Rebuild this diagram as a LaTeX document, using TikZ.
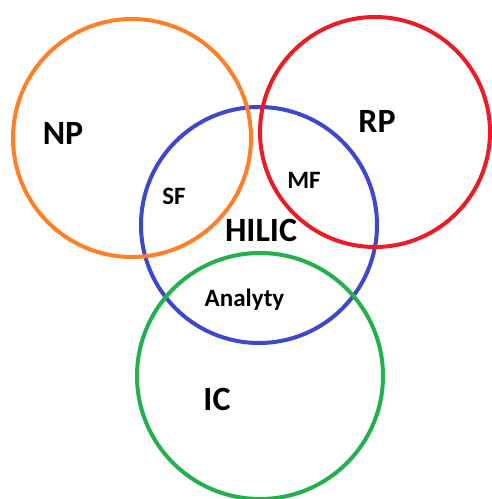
\documentclass[tikz,border=0pt]{standalone}
\usepackage{fontspec}
\setmainfont{Carlito}
\definecolor{cnp}{RGB}{255,127,39}
\definecolor{crp}{RGB}{237,28,36}
\definecolor{chil}{RGB}{63,72,204}
\definecolor{cic}{RGB}{34,177,76}
\begin{document}
\begin{tikzpicture}[x=1pt,y=-1pt,
  ring/.style={draw,line width=4pt},
  big/.style={font=\fontsize{34}{34}\selectfont\bfseries,inner sep=0pt},
  small/.style={font=\fontsize{25}{25}\selectfont\bfseries,inner sep=0pt}]
\useasboundingbox[fill=white] (0,0) rectangle (491,499);
\draw[ring,chil] (259,225) circle[radius=118];
\draw[ring,cnp] (132,138) circle[radius=119];
\draw[ring,crp] (375,132) circle[radius=115];
\draw[ring,cic] (260,376) circle[radius=123];
\node[big,anchor=base] (np) at (63,144) {NP};
\node[big,anchor=base] (rp) at (377,132) {RP};
\node[big,anchor=base] (hilic) at (261,241) {HILIC};
\node[big,anchor=base] (ic) at (217,410) {IC};
\node[small,anchor=base] (sf) at (174,204) {SF};
\node[small,anchor=base] (mf) at (304,188) {MF};
\node[small,anchor=base] (an) at (244.5,306) {Analyty};
\end{tikzpicture}
\end{document}
